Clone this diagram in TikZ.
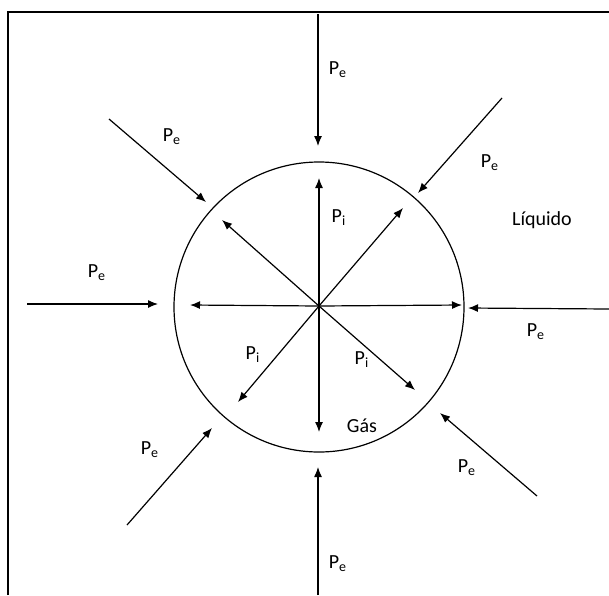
\documentclass[tikz,border=0pt]{standalone}
\usepackage{fontspec}
\setmainfont{Carlito}
\usetikzlibrary{arrows.meta}

\begin{document}
\begin{tikzpicture}[
    x=0.5pt, y=-0.5pt,
    arrow/.style={-{Latex[length=5pt,width=4pt]}, line width=0.6pt},
    lbl/.style={inner sep=0pt, font=\fontsize{10}{12}\selectfont}
  ]
    \useasboundingbox (0,0) rectangle (609,595);
    \draw[line width=0.8pt] (8,595) -- (8,12) -- (609,12);
    \node[circle, draw, line width=0.6pt, minimum size=145pt, inner sep=0pt] (bubble) at (319,307) {};
    \coordinate (o) at (319,306);
    % pressao interna
    \coordinate (iN) at (319,178);
    \coordinate (iS) at (319,432);
    \coordinate (iW) at (190,305);
    \coordinate (iE) at (462,305);
    \coordinate (iNE) at (403,208);
    \coordinate (iNW) at (222,220);
    \coordinate (iSW) at (238,402);
    \coordinate (iSE) at (415,390);
    \draw[arrow] (o) -- (iN);
    \draw[arrow] (o) -- (iS);
    \draw[arrow] (o) -- (iW);
    \draw[arrow] (o) -- (iE);
    \draw[arrow] (o) -- (iNE);
    \draw[arrow] (o) -- (iNW);
    \draw[arrow] (o) -- (iSW);
    \draw[arrow] (o) -- (iSE);
    % pressao externa
    \coordinate (eN0) at (318,14);   \coordinate (eN) at (318,146);
    \coordinate (eS0) at (318,595);  \coordinate (eS) at (318,467);
    \coordinate (eW0) at (27,304);   \coordinate (eW) at (158,304);
    \coordinate (eE0) at (609,309);  \coordinate (eE) at (468,308);
    \coordinate (eNW0) at (109,119); \coordinate (eNW) at (206,202);
    \coordinate (eNE0) at (502,98);  \coordinate (eNE) at (418,193);
    \coordinate (eSW0) at (127,525); \coordinate (eSW) at (212,428);
    \coordinate (eSE0) at (537,496); \coordinate (eSE) at (440,413);
    \draw[arrow] (eN0) -- (eN);
    \draw[arrow] (eS0) -- (eS);
    \draw[arrow] (eW0) -- (eW);
    \draw[arrow] (eE0) -- (eE);
    \draw[arrow] (eNW0) -- (eNW);
    \draw[arrow] (eNE0) -- (eNE);
    \draw[arrow] (eSW0) -- (eSW);
    \draw[arrow] (eSE0) -- (eSE);
    % textos
    \node[lbl] (peN) at (338,70) {P\textsubscript{e}};
    \node[lbl] (peNW) at (172,137) {P\textsubscript{e}};
    \node[lbl] (peNE) at (490,163) {P\textsubscript{e}};
    \node[lbl] (peW) at (97,273) {P\textsubscript{e}};
    \node[lbl] (peE) at (536,332) {P\textsubscript{e}};
    \node[lbl] (peSW) at (150,450) {P\textsubscript{e}};
    \node[lbl] (peSE) at (467,468) {P\textsubscript{e}};
    \node[lbl] (peS) at (338,564) {P\textsubscript{e}};
    \node[lbl] (piN) at (339,218) {P\textsubscript{i}};
    \node[lbl] (piSW) at (253,355) {P\textsubscript{i}};
    \node[lbl] (piSE) at (362,360) {P\textsubscript{i}};
    \node[lbl] (liq) at (542,220) {Líquido};
    \node[lbl] (gas) at (362,426) {Gás};
  \end{tikzpicture}
\end{document}
